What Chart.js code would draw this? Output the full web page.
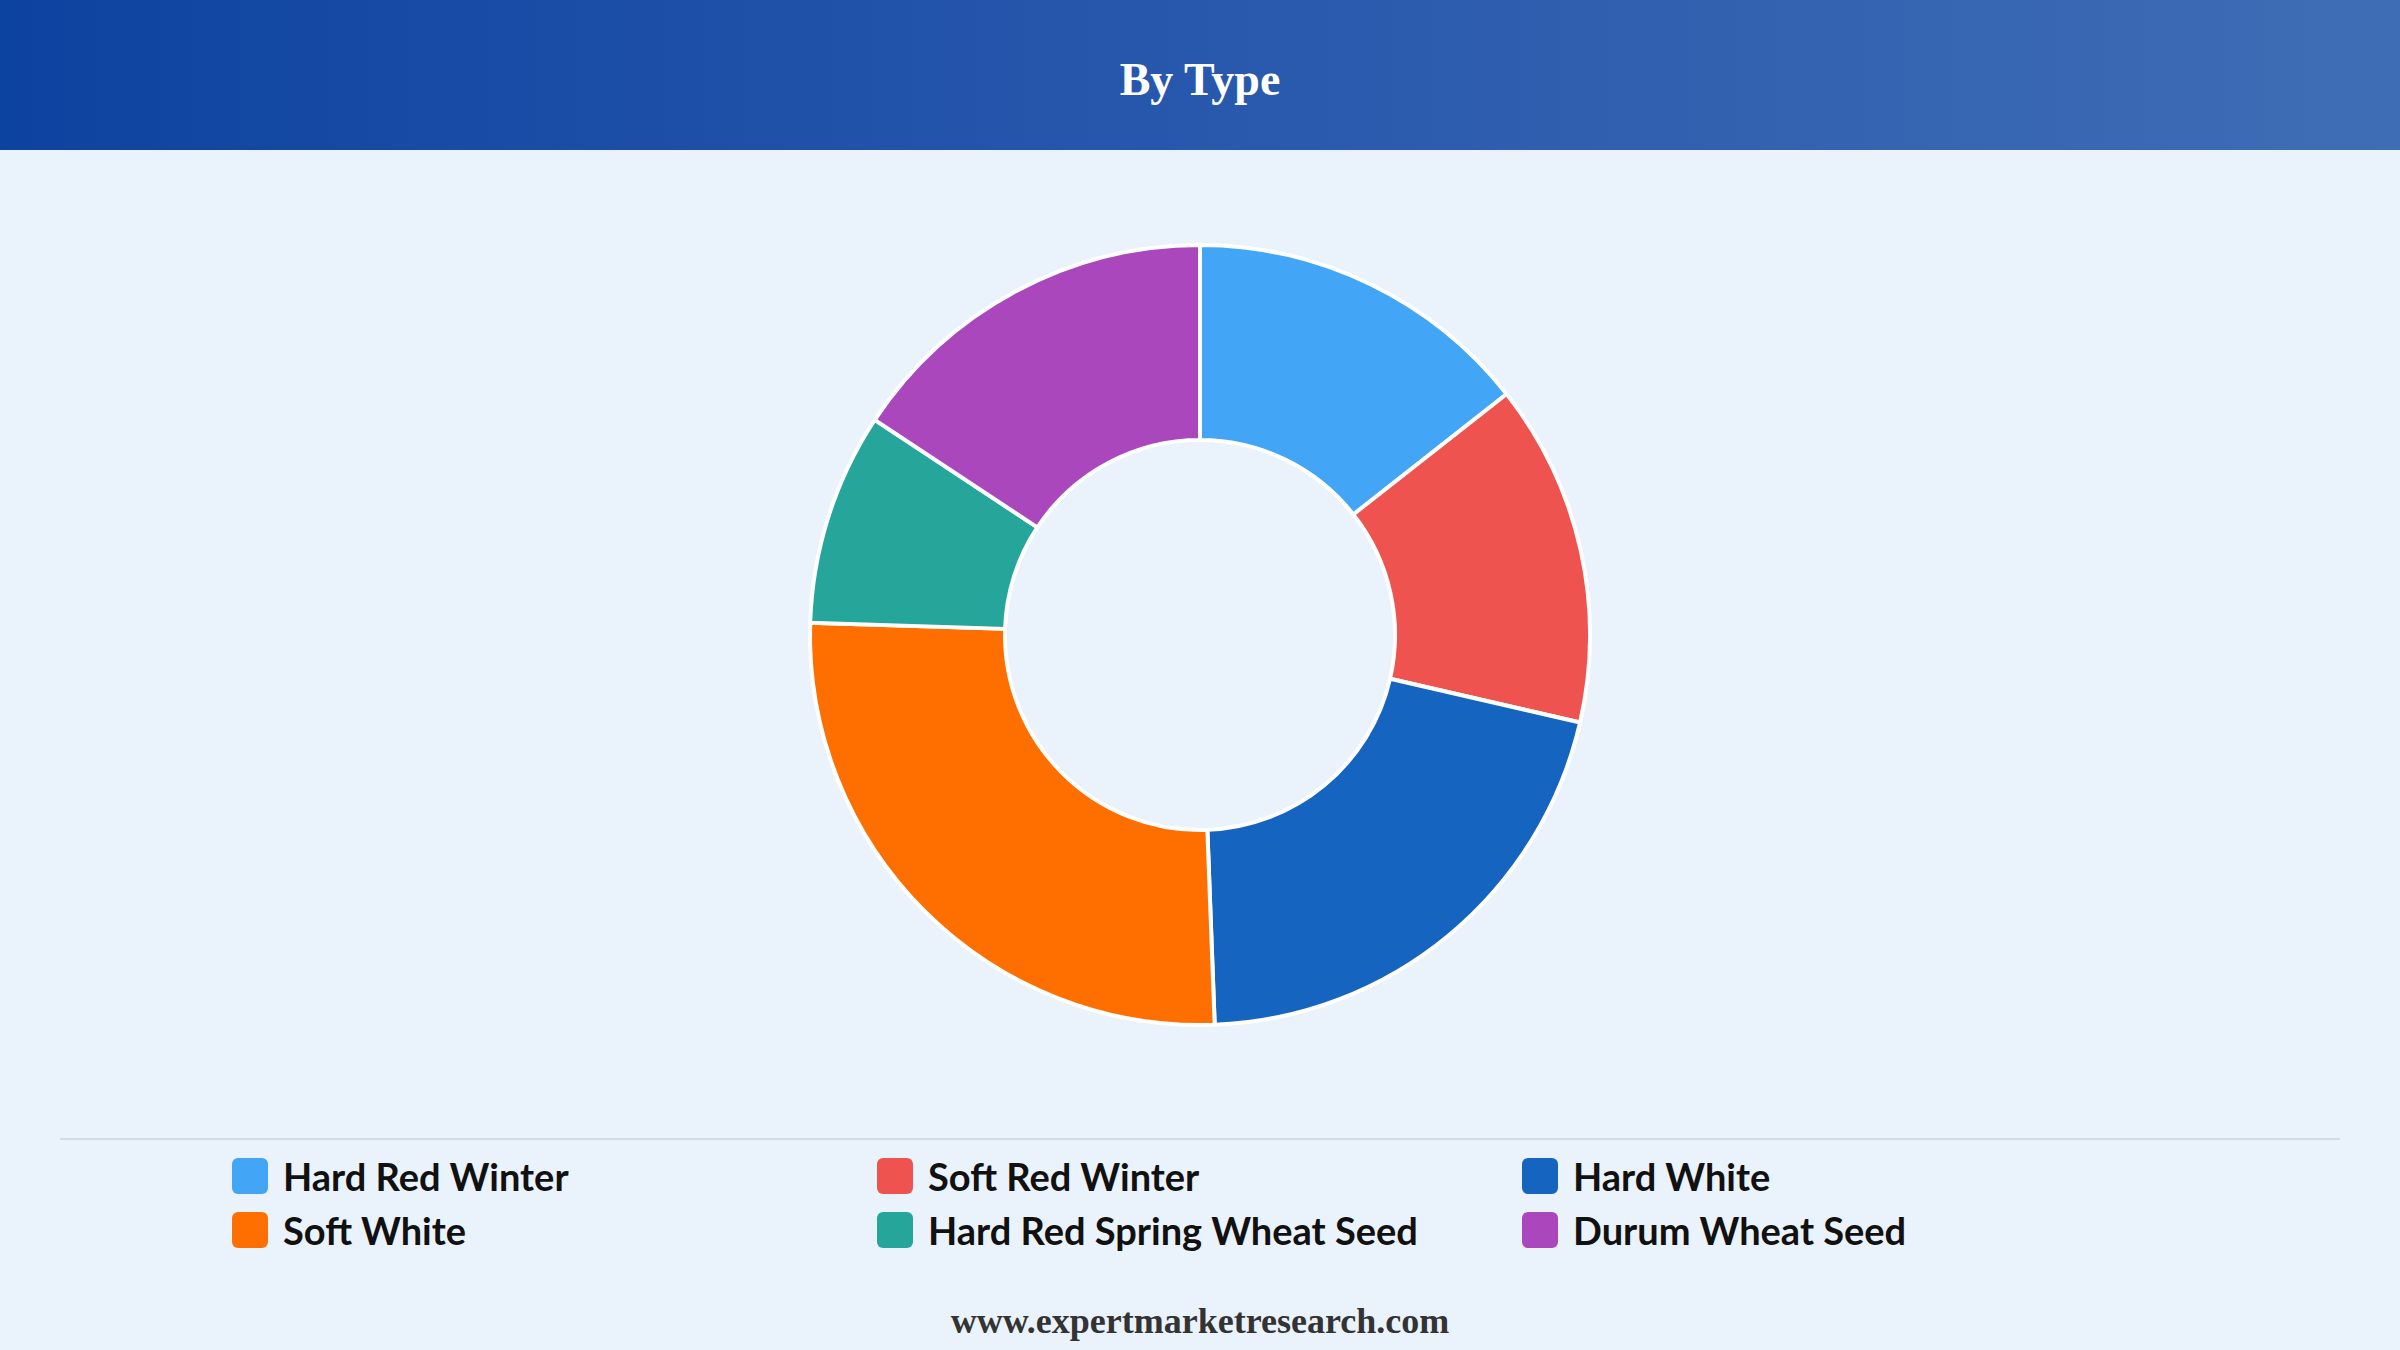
<!DOCTYPE html>
<html>
<head>
<meta charset="utf-8">
<script src="https://cdn.jsdelivr.net/npm/chart.js@4"></script>
<style>
  html, body { margin: 0; padding: 0; }
  body { width: 2400px; height: 1350px; background: #EAF2FB; position: relative; overflow: hidden; font-family: Lato, "Open Sans", sans-serif; }
  .header { position: absolute; left: 0; top: 0; width: 2400px; height: 150px;
    background: linear-gradient(90deg, #0D43A0 0%, #2656AC 45%, #3F6DB5 100%); }
  .header h1 { margin: 0; text-align: center; line-height: 160px; color: #fff;
    font-family: "Liberation Serif", "DejaVu Serif", serif; font-weight: bold; font-size: 46px; }
  #wrap { position: absolute; left: 0; top: 150px; width: 2400px; height: 970px; }
  .sep { position: absolute; left: 60px; top: 1138px; width: 2280px; height: 2px; background: #D4DAE2; }
  .legend { position: absolute; top: 1153px; left: 0; width: 2400px; }
  .item { position: absolute; display: flex; align-items: center; font-size: 38px; font-weight: bold; color: #111; }
  .box { width: 36px; height: 36px; border-radius: 6px; margin-right: 15px; }
  .footer { position: absolute; top: 1300px; width: 2400px; text-align: center;
    font-family: "Liberation Serif", serif; font-weight: bold; font-size: 36px; color: #333; }
</style>
</head>
<body>
<div class="header"><h1>By Type</h1></div>
<div id="wrap"><canvas id="chart"></canvas></div>
<div class="sep"></div>
<div class="legend" id="legend"></div>
<div class="footer">www.expertmarketresearch.com</div>
<script>
const labels = ['Hard Red Winter', 'Soft Red Winter', 'Hard White', 'Soft White', 'Hard Red Spring Wheat Seed', 'Durum Wheat Seed']
const values = [14.4, 14.2, 20.8, 26.1, 8.8, 15.7]
const colors = ['#42A5F5', '#EF5350', '#1565C0', '#FF6F00', '#26A69A', '#AB47BC']

// custom legend, 3 columns
const colX = [232, 877, 1522]
const legend = document.getElementById('legend')
labels.forEach((name, i) => {
  const el = document.createElement('div')
  el.className = 'item'
  el.style.left = colX[i % 3] + 'px'
  el.style.top = (Math.floor(i / 3) * 54) + 'px'
  el.innerHTML = '<span class="box" style="background:' + colors[i] + '"></span>' + name
  legend.appendChild(el)
})

const ctx = document.getElementById('chart').getContext('2d')
new Chart(ctx, {
  type: 'doughnut',
  data: {
    labels: labels,
    datasets: [{
      data: values,
      backgroundColor: colors,
      borderColor: '#ffffff',
      borderWidth: 4
    }]
  },
  options: {
    responsive: true,
    maintainAspectRatio: false,
    animation: false,
    radius: 390,
    cutout: '50%',
    plugins: {
      legend: { display: false },
      tooltip: { enabled: false }
    }
  }
})
</script>
</body>
</html>
